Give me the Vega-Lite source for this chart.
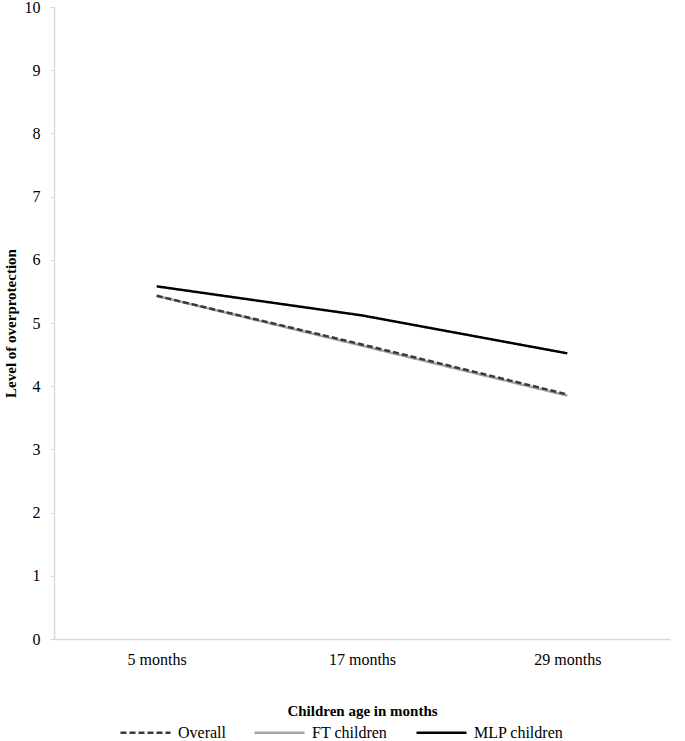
{
  "$schema": "https://vega.github.io/schema/vega-lite/v6.json",
  "width": 616,
  "height": 632,
  "autosize": {"type": "none"},
  "padding": {"left": 54, "top": 7, "right": 15, "bottom": 102},
  "background": "white",
  "config": {
    "view": {"stroke": null},
    "font": "Liberation Serif",
    "axis": {"grid": false, "domainColor": "#d9d9d9", "tickColor": "#d9d9d9", "labelColor": "#000", "titleColor": "#000", "labelFont": "Liberation Serif", "titleFont": "Liberation Serif"}
  },
  "data": {
    "values": [
      {"age": "5 months", "group": "FT children", "value": 5.43},
      {"age": "17 months", "group": "FT children", "value": 4.64},
      {"age": "29 months", "group": "FT children", "value": 3.85},
      {"age": "5 months", "group": "MLP children", "value": 5.58},
      {"age": "17 months", "group": "MLP children", "value": 5.12},
      {"age": "29 months", "group": "MLP children", "value": 4.52},
      {"age": "5 months", "group": "Overall", "value": 5.43},
      {"age": "17 months", "group": "Overall", "value": 4.66},
      {"age": "29 months", "group": "Overall", "value": 3.87}
    ]
  },
  "mark": {"type": "line", "strokeWidth": 2.5},
  "encoding": {
    "x": {
      "field": "age", "type": "ordinal", "sort": ["5 months", "17 months", "29 months"],
      "scale": {"type": "point", "padding": 0.5},
      "axis": {"title": "Children age in months", "labelAngle": 0, "ticks": false, "labelFontSize": 16, "labelPadding": 12, "titleFontSize": 15, "titleFontWeight": "bold", "titlePadding": 36, "domainWidth": 1.5}
    },
    "y": {
      "field": "value", "type": "quantitative",
      "scale": {"domain": [0, 10]},
      "axis": {"title": "Level of overprotection", "values": [0,1,2,3,4,5,6,7,8,9,10], "labelOverlap": false, "labelFlush": false, "tickSize": 4, "labelFontSize": 16, "labelPadding": 10, "titleFontSize": 15, "titleFontWeight": "bold", "titlePadding": 6, "domainWidth": 1.5}
    },
    "color": {
      "field": "group", "type": "nominal",
      "scale": {"domain": ["Overall", "FT children", "MLP children"], "range": ["#3a3a3a", "#a6a6a6", "#000000"]},
      "legend": {"title": null, "orient": "none", "legendX": 65, "legendY": 699, "direction": "horizontal", "symbolType": "stroke", "symbolSize": 2500, "symbolStrokeWidth": 2.5, "labelFontSize": 16, "labelFont": "Liberation Serif", "labelColor": "#000", "columnPadding": 23, "labelOffset": 6}
    },
    "strokeDash": {
      "field": "group", "type": "nominal",
      "scale": {"domain": ["Overall", "FT children", "MLP children"], "range": [[6, 3], [1, 0], [1, 0]]},
      "legend": null
    },
    "order": {"field": "group", "sort": "ascending"}
  }
}
